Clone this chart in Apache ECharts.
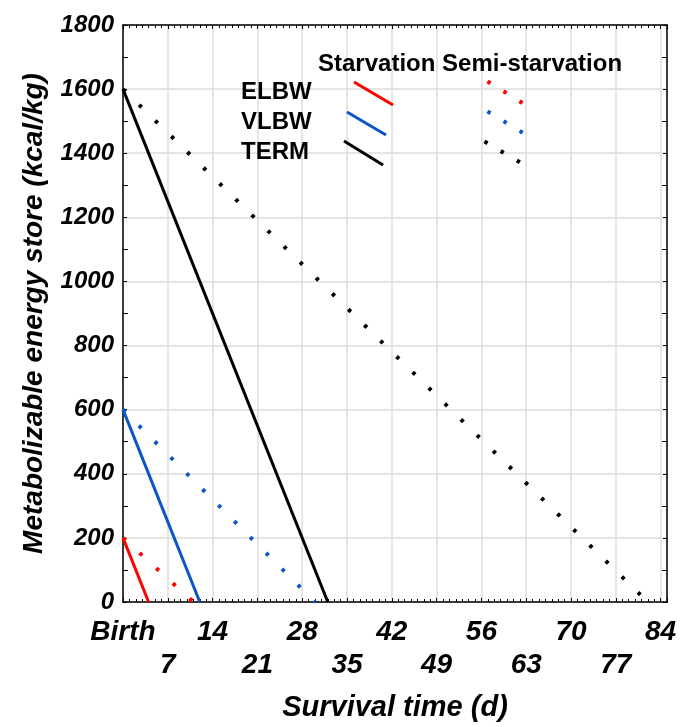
<!DOCTYPE html>
<html>
<head>
<meta charset="utf-8">
<script src="https://cdn.jsdelivr.net/npm/echarts@6/dist/echarts.min.js"></script>
<style>
  html, body { margin: 0; padding: 0; background: #ffffff; }
  #chart { width: 681px; height: 727px; }
</style>
</head>
<body>
<div id="chart"></div>
<script>
// Birth-weight groups and their metabolizable energy store at birth (kcal/kg)
const groups = ['ELBW', 'VLBW', 'TERM'];
const initialStore = [200, 600, 1600];
// Day on which the store is exhausted under each feeding condition
const starvationDays = [4, 12, 32];
const semiStarvationDays = [11, 30, 82];

// Axis ticks
const dayTicks = [0, 7, 14, 21, 28, 35, 42, 49, 56, 63, 70, 77, 84];
const birthLabel = 'Birth';
const storeTicks = [0, 200, 400, 600, 800, 1000, 1200, 1400, 1600, 1800];

const groupColors = ['#ff0000', '#0a55c8', '#000000'];
const FONT = "'Liberation Sans', Arial, sans-serif";

const chart = echarts.init(document.getElementById('chart'), null, { renderer: 'canvas' });

const series = [];
groups.forEach((g, i) => {
  series.push({
    name: g + ' starvation',
    type: 'line',
    xAxisIndex: 0, yAxisIndex: 0,
    symbol: 'none',
    silent: true,
    z: 3,
    lineStyle: { color: groupColors[i], width: 3 },
    data: [[0, initialStore[i]], [starvationDays[i], 0]]
  });
  series.push({
    name: g + ' semi-starvation',
    type: 'line',
    xAxisIndex: 0, yAxisIndex: 0,
    symbol: 'none',
    silent: true,
    z: 2,
    lineStyle: { color: groupColors[i], width: 4, type: [3.5, 19], cap: 'butt' },
    data: [[0, initialStore[i]], [semiStarvationDays[i], 0]]
  });
});

// Key drawn inside the plot: condition headings, group names and line samples
const keyFont = 'bold 24px ' + FONT;
const legendGraphics = [
  { type: 'text', left: 318, top: 52, style: { text: 'Starvation Semi-starvation', font: keyFont, fill: '#000' } },
  { type: 'text', left: 241, top: 80, style: { text: groups[0], font: keyFont, fill: '#000' } },
  { type: 'text', left: 241, top: 110, style: { text: groups[1], font: keyFont, fill: '#000' } },
  { type: 'text', left: 241, top: 140, style: { text: groups[2], font: keyFont, fill: '#000' } },
  { type: 'line', shape: { x1: 354, y1: 82, x2: 393, y2: 105 }, style: { stroke: groupColors[0], lineWidth: 3 } },
  { type: 'line', shape: { x1: 347, y1: 112, x2: 386, y2: 135 }, style: { stroke: groupColors[1], lineWidth: 3 } },
  { type: 'line', shape: { x1: 344, y1: 141, x2: 383, y2: 165 }, style: { stroke: groupColors[2], lineWidth: 3 } },
  { type: 'line', shape: { x1: 487.5, y1: 81.4, x2: 524, y2: 104 }, style: { stroke: groupColors[0], lineWidth: 4, lineDash: [3.5, 15.3] } },
  { type: 'line', shape: { x1: 487.5, y1: 111.4, x2: 524, y2: 133.5 }, style: { stroke: groupColors[1], lineWidth: 4, lineDash: [3.5, 15.3] } },
  { type: 'line', shape: { x1: 484.5, y1: 141.4, x2: 521, y2: 163 }, style: { stroke: groupColors[2], lineWidth: 4, lineDash: [3.5, 15.3] } }
].map((el) => Object.assign({ z: 100 }, el));

const xMax = 85;
const dayStep = dayTicks[1] - dayTicks[0];
const storeStep = storeTicks[1] - storeTicks[0];

const option = {
  animation: false,
  backgroundColor: '#ffffff',
  grid: { left: 123, top: 25, right: 14, bottom: 120, containLabel: false },
  xAxis: [
    {
      type: 'value',
      position: 'bottom',
      min: 0, max: xMax, interval: dayStep,
      name: 'Survival time (d)',
      nameLocation: 'middle',
      nameGap: 91,
      nameTextStyle: { fontFamily: FONT, fontSize: 29, fontWeight: 'bold', fontStyle: 'italic', color: '#000' },
      axisLine: { show: true, onZero: false, lineStyle: { color: '#000', width: 1.5 } },
      axisTick: { show: true, inside: true, length: 4, lineStyle: { color: '#000', width: 1 } },
      minorTick: { show: true, splitNumber: 7, length: 3, lineStyle: { color: '#000', width: 1 } },
      splitLine: { show: true, lineStyle: { color: '#dcdcdc', width: 1.5 } },
      axisLabel: {
        margin: 14,
        fontFamily: FONT, fontSize: 28, fontWeight: 'bold', fontStyle: 'italic', color: '#000',
        lineHeight: 33,
        showMaxLabel: false,
        formatter: (v) => {
          if (dayTicks.indexOf(v) < 0) return '';
          const text = v === 0 ? birthLabel : String(v);
          return (v / dayStep) % 2 === 1 ? '\n' + text : text;
        }
      }
    },
    {
      type: 'value',
      position: 'top',
      min: 0, max: xMax, interval: dayStep,
      axisLine: { show: true, onZero: false, lineStyle: { color: '#000', width: 1.5 } },
      axisTick: { show: true, inside: true, length: 4, lineStyle: { color: '#000', width: 1 } },
      minorTick: { show: true, splitNumber: 7, length: 3, lineStyle: { color: '#000', width: 1 } },
      splitLine: { show: false },
      axisLabel: { show: false }
    }
  ],
  yAxis: [
    {
      type: 'value',
      position: 'left',
      min: storeTicks[0], max: storeTicks[storeTicks.length - 1], interval: storeStep,
      name: 'Metabolizable energy store (kcal/kg)',
      nameLocation: 'middle',
      nameGap: 75,
      nameTextStyle: { fontFamily: FONT, fontSize: 28, fontWeight: 'bold', fontStyle: 'italic', color: '#000' },
      axisLine: { show: true, onZero: false, lineStyle: { color: '#000', width: 1.5 } },
      axisTick: { show: true, inside: true, length: 4, lineStyle: { color: '#000', width: 1 } },
      minorTick: { show: true, splitNumber: 2, length: 5, lineStyle: { color: '#000', width: 1 } },
      splitLine: { show: true, lineStyle: { color: '#dcdcdc', width: 1.5 } },
      axisLabel: {
        margin: 9,
        fontFamily: FONT, fontSize: 24, fontWeight: 'bold', fontStyle: 'italic', color: '#000',
        formatter: (v) => String(v)
      }
    },
    {
      type: 'value',
      position: 'right',
      min: storeTicks[0], max: storeTicks[storeTicks.length - 1], interval: storeStep,
      axisLine: { show: true, onZero: false, lineStyle: { color: '#000', width: 1.5 } },
      axisTick: { show: true, inside: true, length: 4, lineStyle: { color: '#000', width: 1 } },
      minorTick: { show: true, splitNumber: 2, length: 5, lineStyle: { color: '#000', width: 1 } },
      splitLine: { show: false },
      axisLabel: { show: false }
    }
  ],
  graphic: legendGraphics,
  series: series
};

chart.setOption(option);
</script>
</body>
</html>
